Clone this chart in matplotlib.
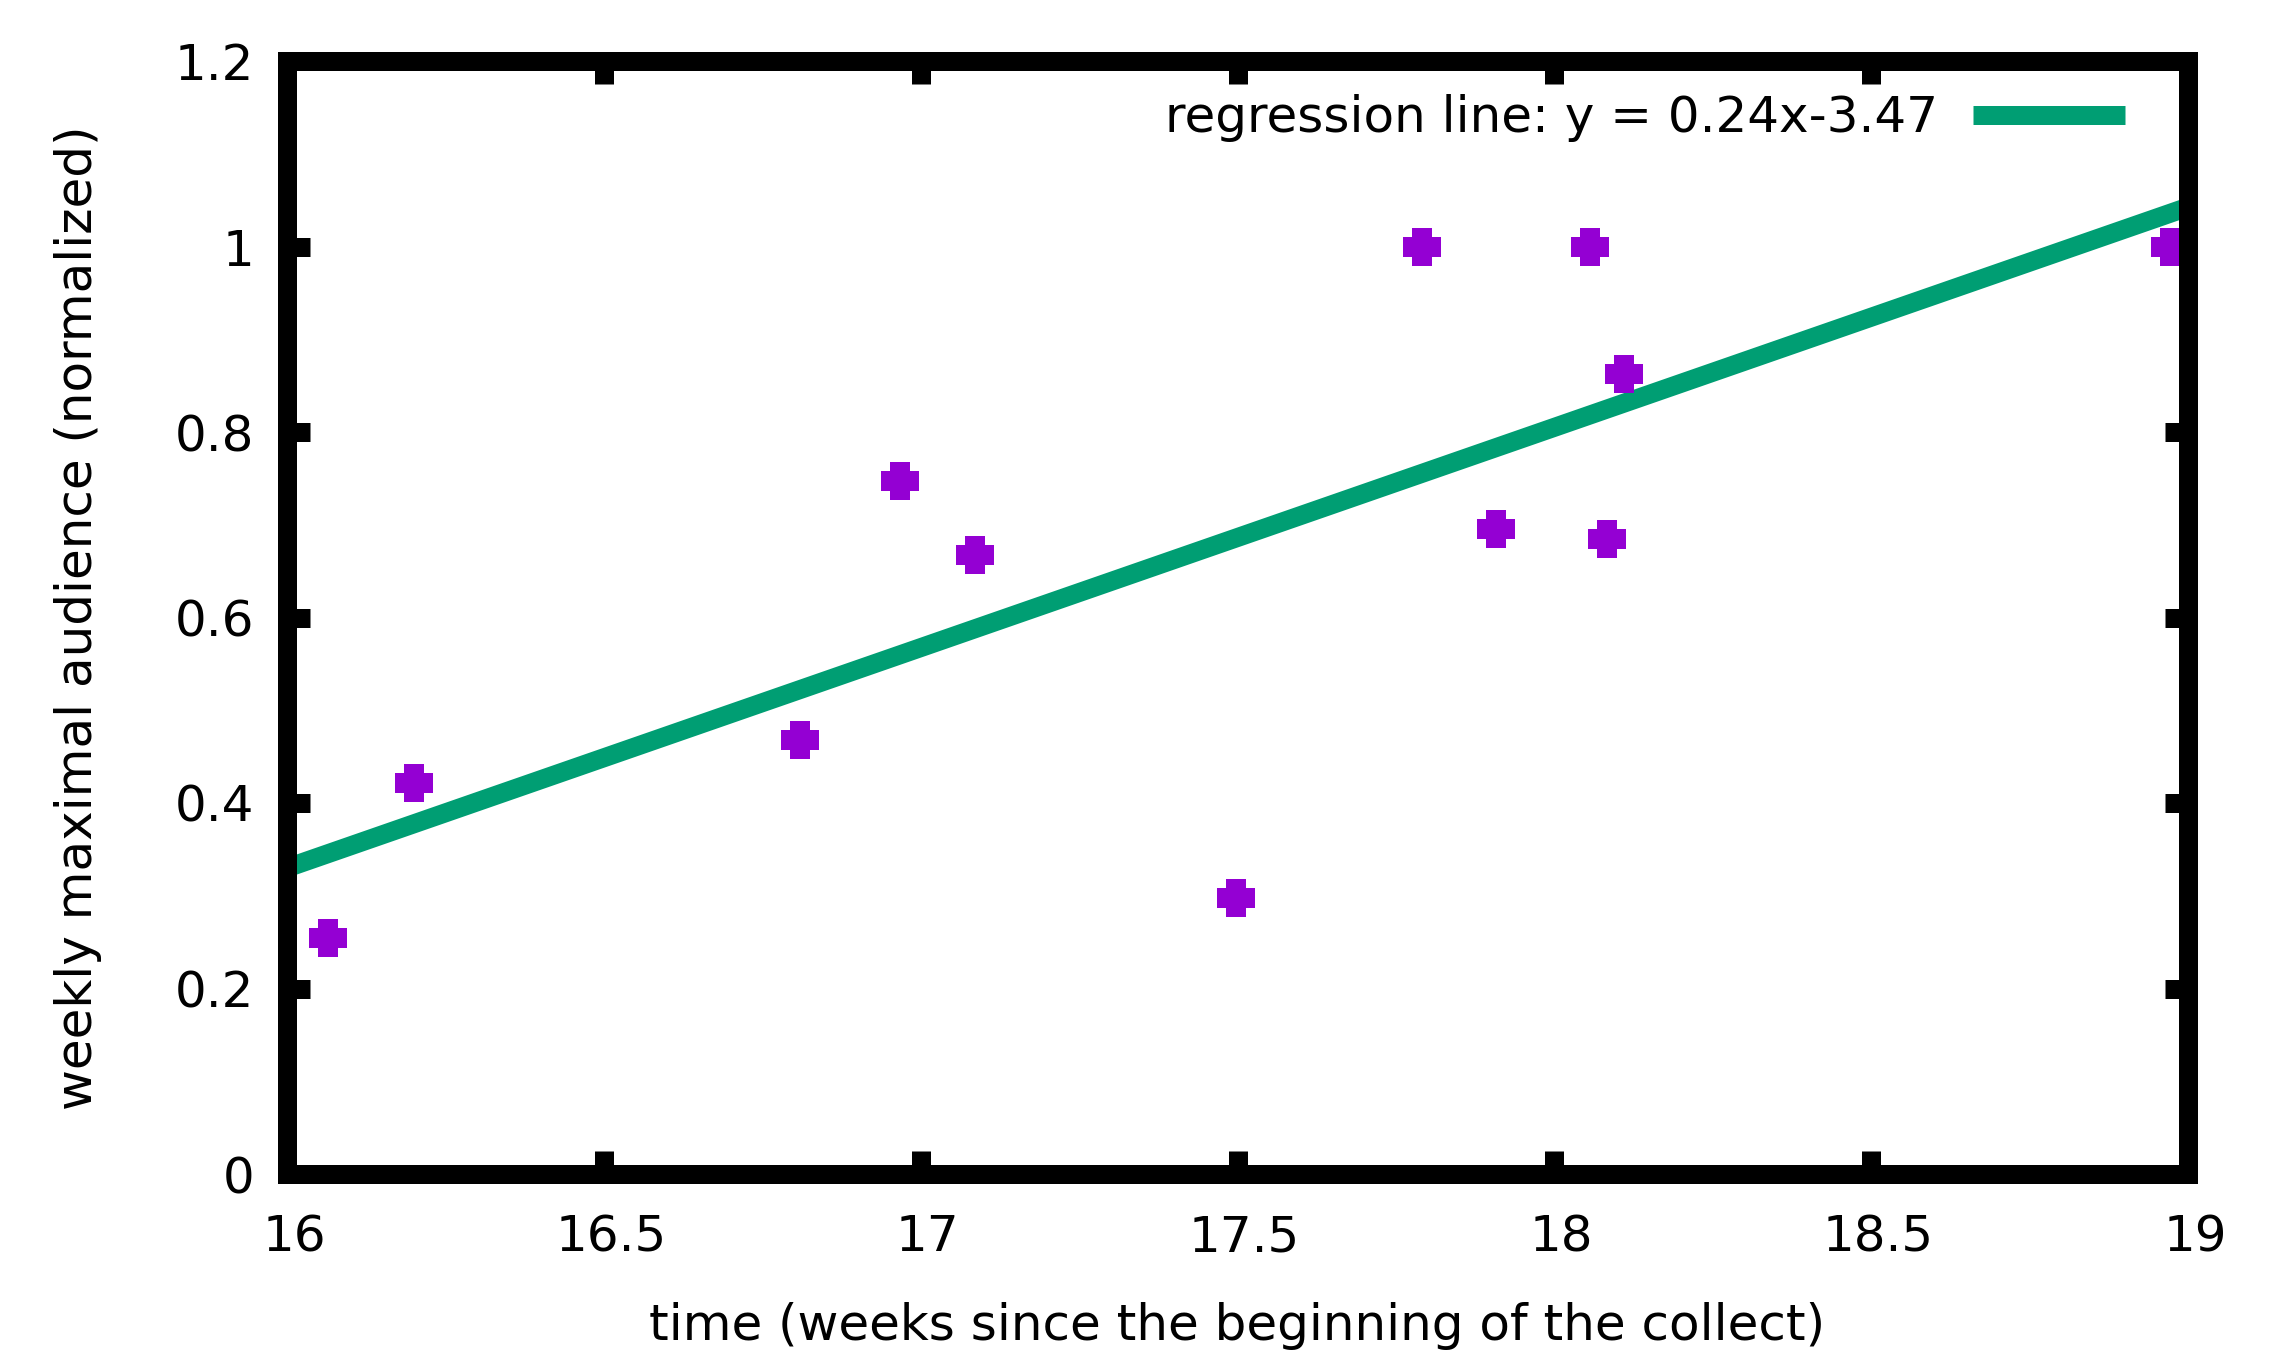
import numpy as np
import matplotlib
matplotlib.use("Agg")
import matplotlib.pyplot as plt
from matplotlib.path import Path
from matplotlib.transforms import ScaledTranslation

# ---- data ----
weeks = [16.064, 16.200, 16.809, 16.968, 17.086, 17.498, 17.791, 17.908, 18.056, 18.083, 18.110, 18.971]
audience = [0.254, 0.422, 0.468, 0.747, 0.667, 0.298, 1.000, 0.695, 1.000, 0.685, 0.862, 1.000]
reg_slope = 0.2375
reg_intercept = -3.47
reg_label = "regression line: y = 0.24x-3.47"
x_ticks = [16, 16.5, 17, 17.5, 18, 18.5, 19]
x_ticklabels = ["16", "16.5", "17", "17.5", "18", "18.5", "19"]
y_ticks = [0, 0.2, 0.4, 0.6, 0.8, 1.0, 1.2]
y_ticklabels = ["0", "0.2", "0.4", "0.6", "0.8", "1", "1.2"]

plt.rcParams['font.family'] = ['DejaVu Sans']

DPI = 100
def px(v):
    return v * 72.0 / DPI

fig = plt.figure(figsize=(22.92, 13.5), dpi=DPI)
ax = fig.add_axes([287/2292, 1 - 1174/1350, (2188-287)/2292, (1174-61)/1350])

# filled plus marker with wide arms
verts = [(-0.5, -1), (0.5, -1), (0.5, -0.5), (1, -0.5), (1, 0.5), (0.5, 0.5),
         (0.5, 1), (-0.5, 1), (-0.5, 0.5), (-1, 0.5), (-1, -0.5), (-0.5, -0.5), (-0.5, -1)]
plus_marker = Path(verts, closed=True)

xr = np.array([16.0, 19.0])
ax.plot(xr, reg_slope * xr + reg_intercept, color="#009E73", lw=px(19),
        solid_capstyle="butt", label=reg_label, zorder=2)
ax.plot(weeks, audience, linestyle="none", marker=plus_marker, markersize=px(38.5),
        markerfacecolor="#9400D3", markeredgewidth=0, color="#9400D3", zorder=3)

ax.set_xlim(16, 19)
ax.set_ylim(0, 1.2)
ax.set_xticks(x_ticks)
ax.set_xticklabels(x_ticklabels)
ax.set_yticks(y_ticks)
ax.set_yticklabels(y_ticklabels)

fs = 36
ax.tick_params(axis="both", which="major", direction="in", length=px(23), width=px(19),
               labelsize=fs, top=True, right=True, color="black")
ax.tick_params(axis="x", pad=px(39))
ax.tick_params(axis="y", pad=px(33))
for sp in ax.spines.values():
    sp.set_linewidth(px(19))
    sp.set_zorder(5)

shift = ScaledTranslation(7 / DPI, 0, fig.dpi_scale_trans)
for lab in ax.get_xticklabels():
    lab.set_transform(lab.get_transform() + shift)

ax.set_xlabel("time (weeks since the beginning of the collect)", fontsize=fs, labelpad=px(41))
ax.set_ylabel("weekly maximal audience (normalized)", fontsize=fs, labelpad=px(72))

leg = ax.legend(loc="center right", bbox_to_anchor=((2125-287)/1901, (1174-118)/1113),
                frameon=False, fontsize=fs, markerfirst=False, borderpad=0,
                borderaxespad=0, handlelength=152/50, handletextpad=35/50)

fig.savefig("out.png", dpi=DPI, facecolor="white")
